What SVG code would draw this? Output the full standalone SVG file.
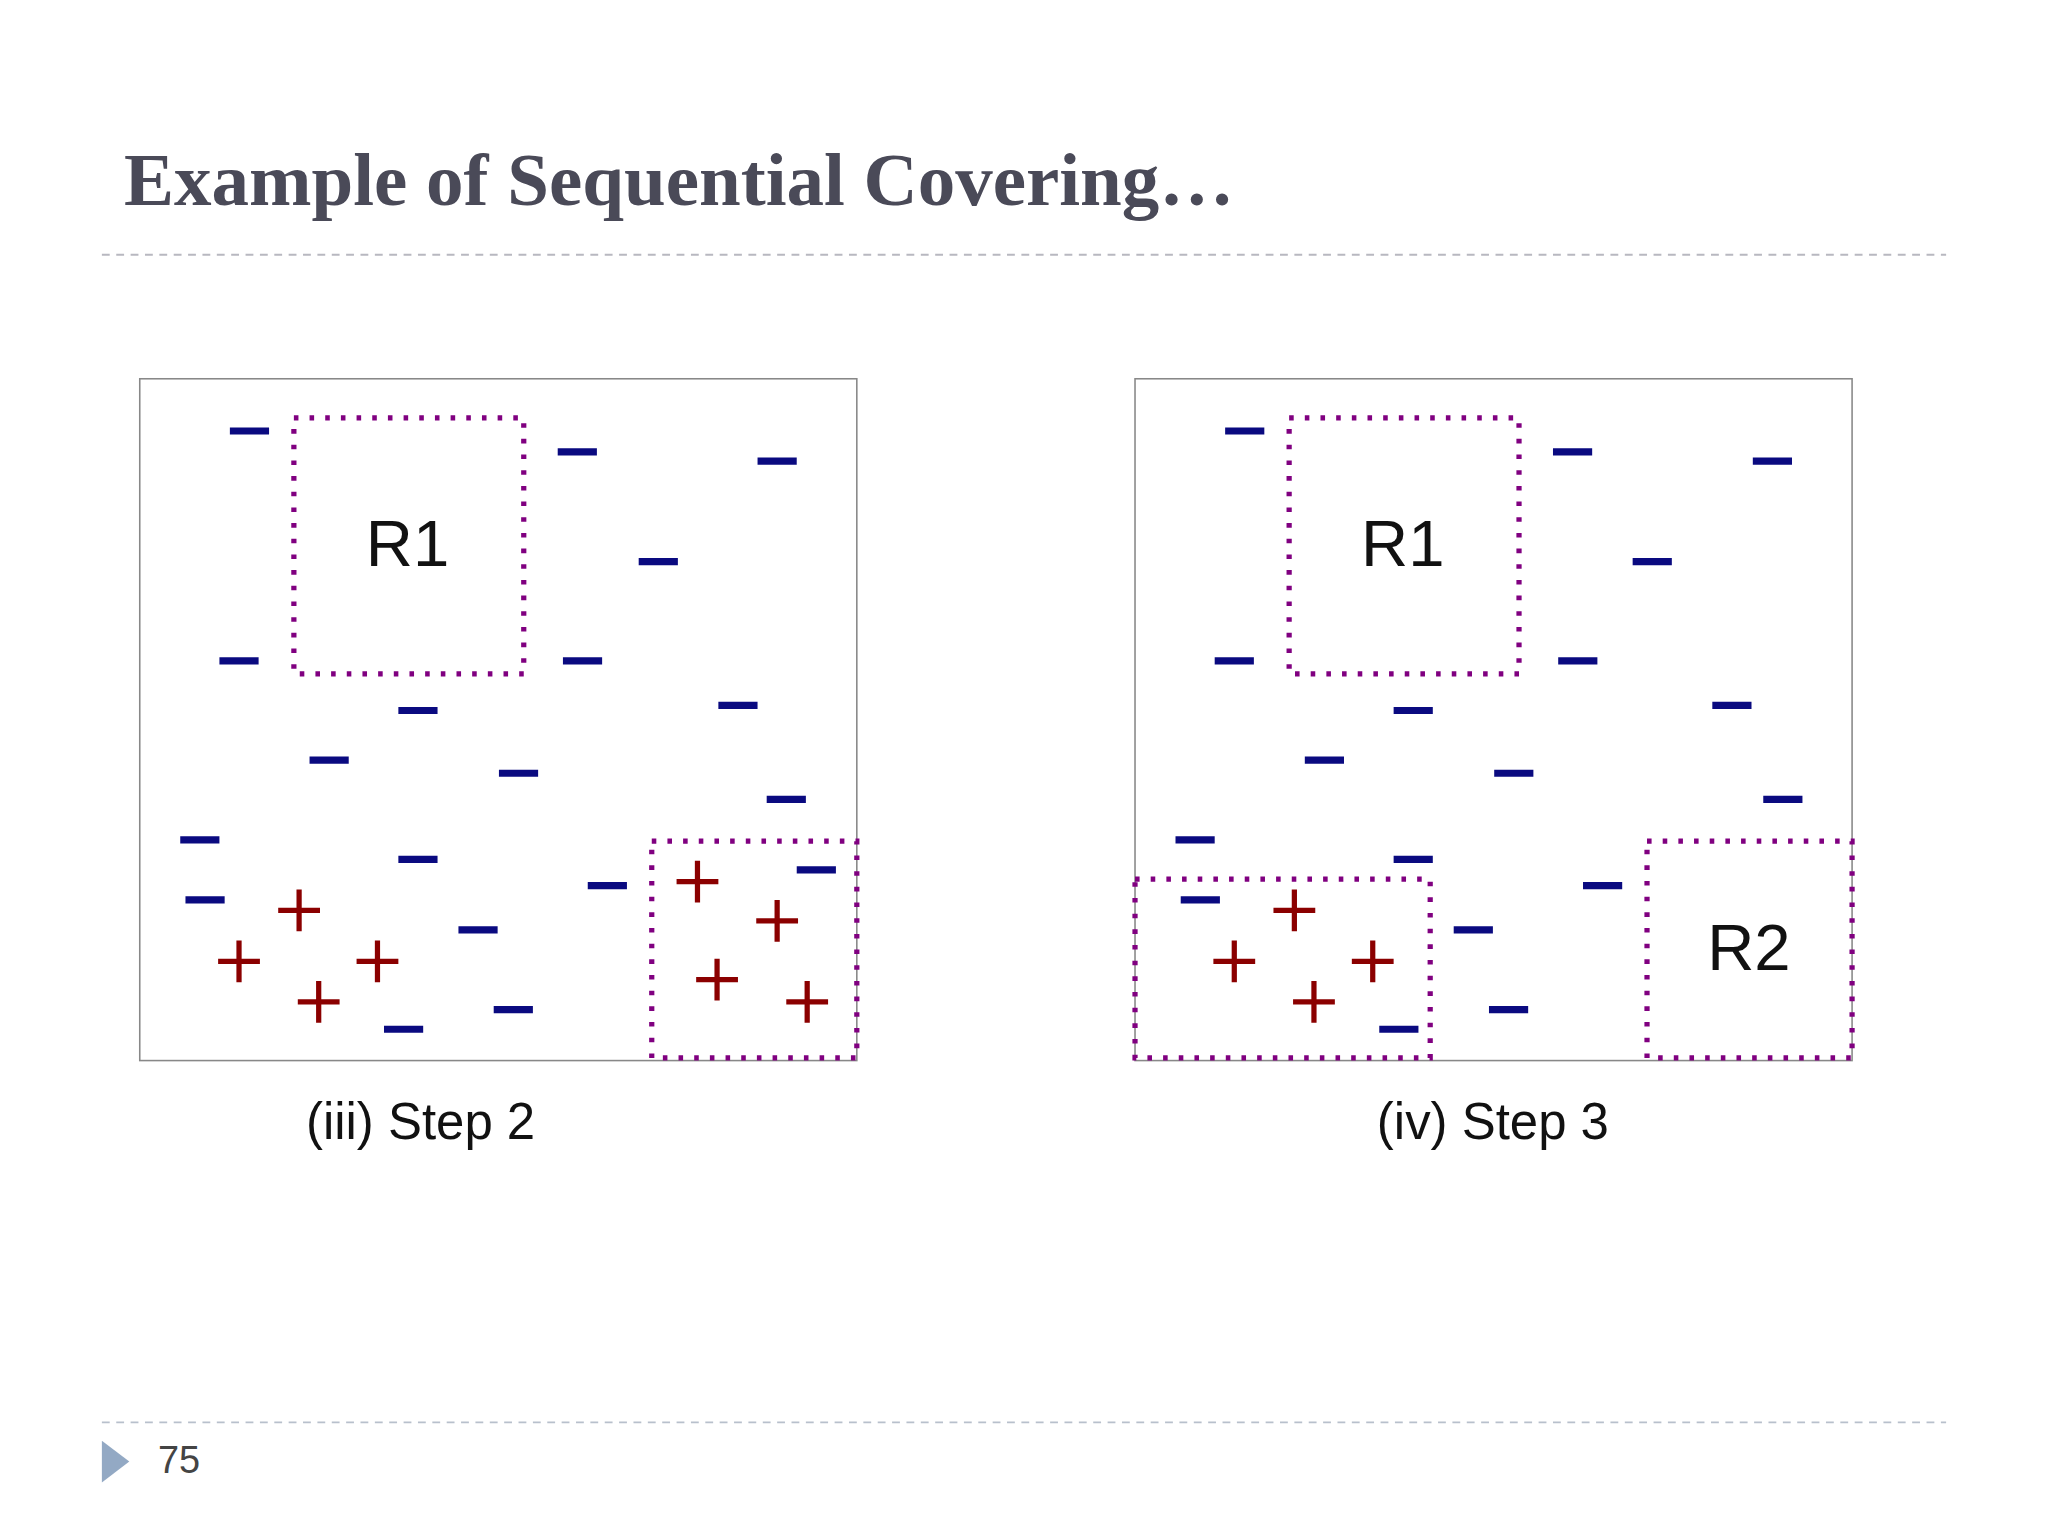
<svg xmlns="http://www.w3.org/2000/svg" width="2048" height="1536" viewBox="0 0 2048 1536">
<style>
.m{stroke:#0a0a80;stroke-width:5.5}
.p{stroke:#8b0000;stroke-width:4}
.box{fill:none;stroke:#888;stroke-width:1.2}
.dot{fill:none;stroke:#800080;stroke-width:4;stroke-dasharray:3.5 8.5}
.lbl{font-family:"Liberation Sans",Arial,sans-serif;fill:#111;text-anchor:middle}
</style>
<defs>
<path id="mi" class="m" d="M-15 0H15"/>
<path id="pl" class="p" d="M-16 0H16M0 -16V16"/>
</defs>
<rect width="2048" height="1536" fill="#fff"/>
<g transform="scale(1.30612)">
<g id="title"><text x="95" y="157" font-family="Liberation Serif,serif" font-weight="bold" font-size="56" fill="#4a4a58" textLength="850" lengthAdjust="spacingAndGlyphs">Example of Sequential Covering…</text></g>
<line x1="78" y1="195" x2="1490" y2="195" stroke="#b8b8c0" stroke-width="1.5" stroke-dasharray="6 5"/>
<line x1="78" y1="1089" x2="1490" y2="1089" stroke="#b8c0cc" stroke-width="1.5" stroke-dasharray="6 5"/>
<polygon points="78,1103 99,1119 78,1135" fill="#93a9c4"/>
<text x="121" y="1128" font-family="Liberation Sans,Arial,sans-serif" font-size="29" fill="#444">75</text>
<g id="panel-left">
<rect class="box" x="107" y="290" width="549" height="522"/>
<g>
<use href="#mi" x="191" y="330"/><use href="#mi" x="442" y="346"/><use href="#mi" x="595" y="353"/><use href="#mi" x="504" y="430"/>
<use href="#mi" x="183" y="506"/><use href="#mi" x="446" y="506"/><use href="#mi" x="320" y="544"/><use href="#mi" x="565" y="540"/>
<use href="#mi" x="252" y="582"/><use href="#mi" x="397" y="592"/><use href="#mi" x="602" y="612"/><use href="#mi" x="153" y="643"/>
<use href="#mi" x="320" y="658"/><use href="#mi" x="625" y="666"/><use href="#mi" x="157" y="689"/><use href="#mi" x="465" y="678"/>
<use href="#mi" x="366" y="712"/><use href="#mi" x="393" y="773"/><use href="#mi" x="309" y="788"/>
<use href="#pl" x="229" y="697"/><use href="#pl" x="183" y="736"/><use href="#pl" x="289" y="736"/><use href="#pl" x="244" y="767"/>
<use href="#pl" x="534" y="675"/><use href="#pl" x="595" y="705"/><use href="#pl" x="549" y="750"/><use href="#pl" x="618" y="767"/>
</g>
<rect class="dot" x="225" y="320" width="176" height="196"/>
<rect class="dot" x="499" y="644" width="157" height="166"/>
<text class="lbl" x="312" y="433" font-size="50">R1</text>
<text class="lbl" x="322" y="872" font-size="39">(iii) Step 2</text>
</g>
<g id="panel-right">
<rect class="box" x="869" y="290" width="549" height="522"/>
<g>
<use href="#mi" x="953" y="330"/><use href="#mi" x="1204" y="346"/><use href="#mi" x="1357" y="353"/><use href="#mi" x="1265" y="430"/>
<use href="#mi" x="945" y="506"/><use href="#mi" x="1208" y="506"/><use href="#mi" x="1082" y="544"/><use href="#mi" x="1326" y="540"/>
<use href="#mi" x="1014" y="582"/><use href="#mi" x="1159" y="592"/><use href="#mi" x="1365" y="612"/><use href="#mi" x="915" y="643"/>
<use href="#mi" x="1082" y="658"/><use href="#mi" x="919" y="689"/><use href="#mi" x="1227" y="678"/>
<use href="#mi" x="1128" y="712"/><use href="#mi" x="1155" y="773"/><use href="#mi" x="1071" y="788"/>
<use href="#pl" x="991" y="697"/><use href="#pl" x="945" y="736"/><use href="#pl" x="1051" y="736"/><use href="#pl" x="1006" y="767"/>
</g>
<rect class="dot" x="987" y="320" width="176" height="196"/>
<rect class="dot" x="1261" y="644" width="157" height="166"/>
<rect class="dot" x="869" y="673" width="226" height="137"/>
<text class="lbl" x="1074" y="433" font-size="50">R1</text>
<text class="lbl" x="1339" y="743" font-size="50">R2</text>
<text class="lbl" x="1143" y="872" font-size="39">(iv) Step 3</text>
</g>
</g>
</svg>
